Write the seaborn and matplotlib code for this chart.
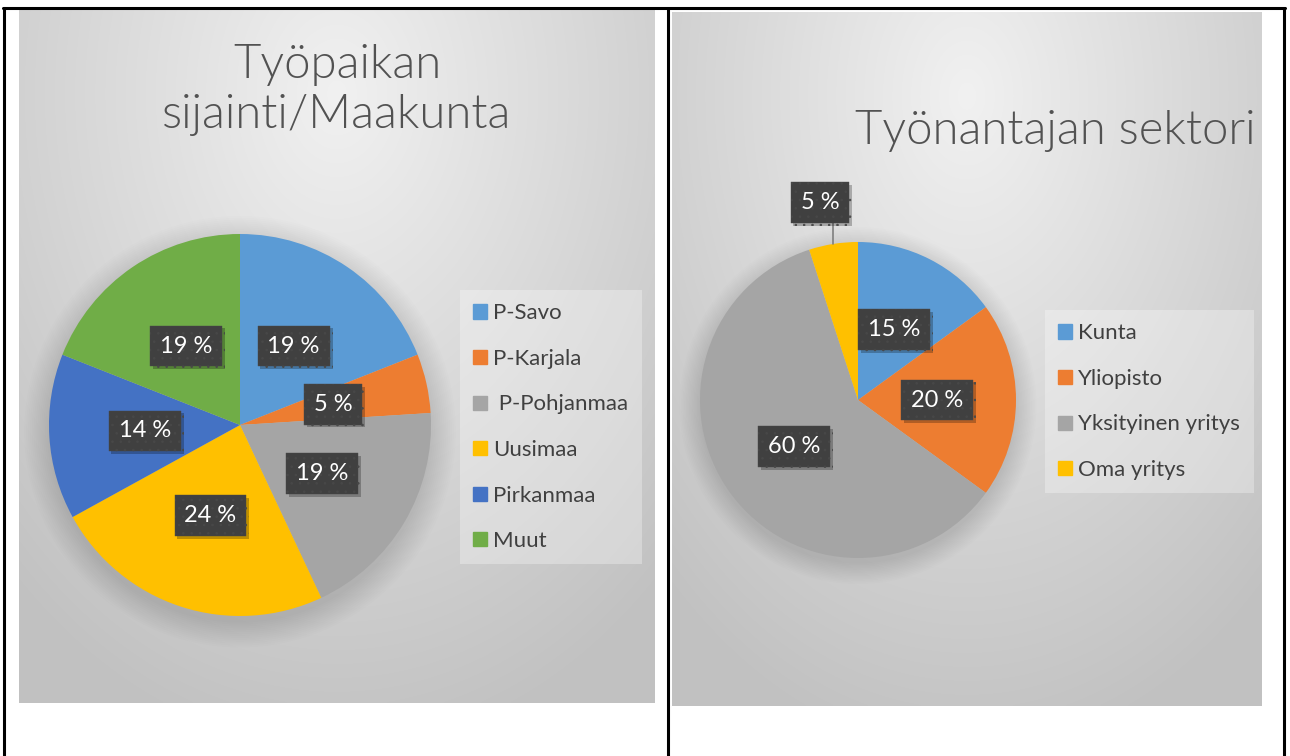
import numpy as np
import matplotlib
matplotlib.use("Agg")
import matplotlib.pyplot as plt
import matplotlib.patheffects as pe
from matplotlib.patches import Circle, Patch
from matplotlib.lines import Line2D
import seaborn as sns

# ---------------- data ----------------
left_title = "Työpaikan\nsijainti/Maakunta"
left_labels = ["P-Savo", "P-Karjala", " P-Pohjanmaa", "Uusimaa", "Pirkanmaa", "Muut"]
left_values = [19, 5, 19, 24, 14, 19]
left_colors = ["#5B9BD5", "#ED7D31", "#A5A5A5", "#FFC000", "#4472C4", "#70AD47"]

right_title = "Työnantajan sektori"
right_labels = ["Kunta", "Yliopisto", "Yksityinen yritys", "Oma yritys"]
right_values = [15, 20, 60, 5]
right_colors = ["#5B9BD5", "#ED7D31", "#A5A5A5", "#FFC000"]

# ---------------- style ----------------
sns.set_theme(style="white")
plt.rcParams["font.family"] = ["Lato", "DejaVu Sans"]
plt.rcParams["hatch.color"] = "#555555"
plt.rcParams["hatch.linewidth"] = 0.6

W, H = 1290, 756
fig = plt.figure(figsize=(W / 100, H / 100), dpi=100, facecolor="white")


def rect(x0, y0, x1, y1):
    return [x0 / W, 1 - y1 / H, (x1 - x0) / W, (y1 - y0) / H]


def gradient(ax, cx=0.5, cy=0.12):
    ny, nx = 300, 300
    yy, xx = np.mgrid[0:1:ny * 1j, 0:1:nx * 1j]
    d = np.sqrt(((xx - cx) / 0.75) ** 2 + ((yy - cy) / 0.95) ** 2)
    v = 0.945 - 0.185 * np.clip(d, 0, 1)
    img = np.dstack([v, v, v])
    ax.imshow(img, extent=(0, 1, 1, 0), aspect="auto", interpolation="bilinear")
    ax.set_xlim(0, 1)
    ax.set_ylim(1, 0)
    ax.axis("off")


# panel backgrounds
bgL = fig.add_axes(rect(19, 10, 655, 703), zorder=0)
gradient(bgL)
bgR = fig.add_axes(rect(672, 12, 1262, 706), zorder=0)
gradient(bgR)

# table borders
lines_px = [((3, 8), (1285, 8)), ((4, 8), (4, 756)), ((668, 8), (668, 756)), ((1284, 8), (1284, 756))]
for (xa, ya), (xb, yb) in lines_px:
    fig.add_artist(Line2D([xa / W, xb / W], [1 - ya / H, 1 - yb / H], color="black", lw=2.2,
                          transform=fig.transFigure, zorder=10))


def label_box(t, fs=17):
    t.set_color("white")
    t.set_fontsize(fs)
    t.set_bbox(dict(boxstyle="square,pad=0.42", fc="#404040", ec="#484848", lw=0.3, hatch=".."))
    t.get_bbox_patch().set_path_effects([pe.SimplePatchShadow(offset=(2, -2), alpha=0.25, shadow_rgbFace="black"),
                                          pe.Normal()])
    t.set_zorder(5)


def draw_pie(ax, values, colors):
    for k in range(14):
        ax.add_patch(Circle((0.0, -0.035), 1.0 + 0.01 * k, color="black", alpha=0.008, lw=0,
                            zorder=0, clip_on=False))
    wedges, texts, autotexts = ax.pie(values, colors=colors, startangle=90, counterclock=False,
                                      radius=1, wedgeprops=dict(linewidth=0, zorder=1),
                                      autopct=lambda p: f"{p:.0f} %", pctdistance=0.5)
    ax.set_xlim(-1, 1)
    ax.set_ylim(-1, 1)
    ax.set_aspect("equal")
    ax.axis("off")
    for t in autotexts:
        label_box(t)
    return wedges, autotexts


legend_kw = dict(loc="upper left", fontsize=16, frameon=True, fancybox=False, framealpha=0.3,
                 facecolor="white", edgecolor="none", handlelength=0.6, handleheight=0.6,
                 handletextpad=0.3, labelspacing=1.15, borderpad=0.6, borderaxespad=0)

# ---------------- left chart ----------------
axL = fig.add_axes(rect(49, 234, 431, 616), zorder=2)
wL, tL = draw_pie(axL, left_values, left_colors)

fig.text(337 / W, 1 - 90 / H, left_title, ha="center", va="center", fontsize=34,
         fontweight=300, color="#525252", linespacing=1.25, zorder=3)

legL = fig.legend(handles=[Patch(color=c) for c in left_colors], labels=left_labels,
                  bbox_to_anchor=(460 / W, 1 - 290 / H), **legend_kw)
for txt in legL.get_texts():
    txt.set_color("#404040")

# ---------------- right chart ----------------
axR = fig.add_axes(rect(700, 242, 1016, 558), zorder=2)
wR, tR = draw_pie(axR, right_values, right_colors)

# small slice label moved outside with a leader line
small = int(np.argmin(right_values))
wd = wR[small]
mid = np.deg2rad((wd.theta1 + wd.theta2) / 2)
ex, ey = np.cos(mid), np.sin(mid)
tR[small].set_position((ex - 0.085, 1.25))
tR[small].set_va("center")
axR.plot([ex, ex], [ey, 1.12], color="#7f7f7f", lw=1.2, clip_on=False, zorder=4)

fig.text(1055 / W, 1 - 131 / H, right_title, ha="center", va="center", fontsize=34,
         fontweight=300, color="#525252", zorder=3)

legR = fig.legend(handles=[Patch(color=c) for c in right_colors], labels=right_labels,
                  bbox_to_anchor=(1045 / W, 1 - 310 / H), **legend_kw)
for txt in legR.get_texts():
    txt.set_color("#404040")

fig.savefig("out.png", dpi=100, facecolor="white")
